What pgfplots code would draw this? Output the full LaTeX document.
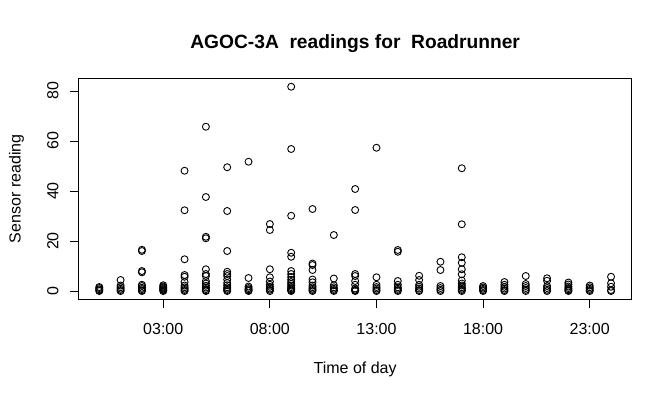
\documentclass[border=0pt]{standalone}
\usepackage{fontspec}
\setmainfont{Liberation Sans}
\usepackage{pgfplots}
\pgfplotsset{compat=1.18}
\usepackage{pgfplotstable}
\pgfplotstableread{
x y
0 0
0 0.3
0 0.7
0 1.2
0 1.6
1 0
1 0.4
1 0.9
1 1.5
1 2.2
1 4.4
2 0
2 0.3
2 0.8
2 1.3
2 2
2 2.5
2 7.5
2 8
2 16
2 16.5
3 0
3 0.3
3 0.6
3 1
3 1.4
3 1.8
3 2.3
4 0
4 0.4
4 0.9
4 1.5
4 2.2
4 3.6
4 5.7
4 6.4
4 12.7
4 32.3
4 48.1
5 0
5 0.3
5 0.8
5 1.4
5 2.1
5 3
5 4
5 6
5 6.8
5 8.7
5 21.1
5 21.7
5 37.6
5 65.7
6 0
6 0.4
6 0.9
6 1.5
6 2.3
6 3.2
6 4.6
6 6
6 6.8
6 7.7
6 16
6 32
6 49.5
7 0
7 0.3
7 0.7
7 1.2
7 1.8
7 5.2
7 51.7
8 0
8 0.5
8 1
8 1.7
8 2.5
8 3.8
8 5.5
8 8.7
8 24.4
8 26.8
9 0
9 0.3
9 0.7
9 1.1
9 1.6
9 2.2
9 2.9
9 3.6
9 4.5
9 5.6
9 6.8
9 8
9 13.7
9 15.3
9 30.1
9 56.8
9 81.7
10 0
10 0.4
10 0.9
10 1.5
10 2.2
10 3.5
10 4.6
10 8.4
10 10.4
10 11
10 32.8
11 0
11 0.4
11 0.9
11 1.5
11 2.3
11 5
11 22.4
12 0
12 0.2
12 0.5
12 1
12 2.5
12 4
12 6
12 6.8
12 32.4
12 40.8
13 0
13 0.4
13 1
13 1.6
13 2.5
13 5.5
13 57.3
14 0
14 0.4
14 0.9
14 1.5
14 2.5
14 4
14 15.7
14 16.4
15 0
15 0.4
15 1
15 1.7
15 2.5
15 4.4
15 6.1
16 0
16 0.5
16 1.2
16 2
16 8.4
16 11.7
17 0
17 0.4
17 0.9
17 1.5
17 2.2
17 3
17 4.2
17 6.7
17 8.7
17 11.3
17 13.5
17 26.7
17 49.1
18 0
18 0.4
18 0.9
18 1.4
18 2
19 0
19 0.4
19 1
19 1.7
19 2.5
19 3.6
20 0
20 0.5
20 1.2
20 2
20 2.8
20 6
21 0
21 0.5
21 1.2
21 2
21 4.1
21 5.1
22 0
22 0.3
22 0.7
22 1.2
22 1.8
22 2.6
22 3.4
23 0
23 0.4
23 0.9
23 1.5
23 2.2
24 0
24 0.4
24 1.7
24 3.1
24 5.7
}\datatable
\begin{document}
\begin{tikzpicture}[x=1bp,y=1bp]
\path[use as bounding box] (0,0) rectangle (671,398);
\begin{axis}[
  at={(78.8bp,98.8bp)}, anchor=south west,
  width=552.7bp, height=220.9bp, scale only axis,
  xmin=-0.96, xmax=24.96, ymin=-3.27, ymax=85.07,
  xtick={3,8,13,18,23},
  xticklabels={03:00,08:00,13:00,18:00,23:00},
  ytick={0,20,40,60,80},
  /pgf/number format/assume math mode=true,
  tick align=outside, xtick pos=left, ytick pos=left,
  major tick length=9bp,
  tick style={black, line width=0.8bp},
  axis line style={black, line width=0.8bp},
  font=\fontsize{16bp}{19bp}\selectfont,
  ticklabel style={font=\fontsize{16bp}{19bp}\selectfont},
  every axis title/.style={at={(0.5,1)}, anchor=base, yshift=30bp,
    font=\fontsize{19.2bp}{23bp}\selectfont\bfseries},
  every axis x label/.style={at={(0.5,0)}, anchor=base, yshift=-74.5bp},
  every axis y label/.style={at={(0,0.5)}, xshift=-58.3bp, rotate=90, anchor=base},
  xticklabel style={anchor=base, yshift=-35bp+9bp},
  yticklabel style={xshift=-11.5bp, rotate=90, anchor=base},
  title={AGOC-3A\ \ readings for\ \ Roadrunner},
  xlabel={Time of day},
  ylabel={Sensor reading},
]
\addplot[only marks, mark=o, mark size=3.5bp, black, line width=0.9bp,
  mark options={line width=0.9bp}] table[x=x,y=y] {\datatable};
\end{axis}
\end{tikzpicture}
\end{document}
